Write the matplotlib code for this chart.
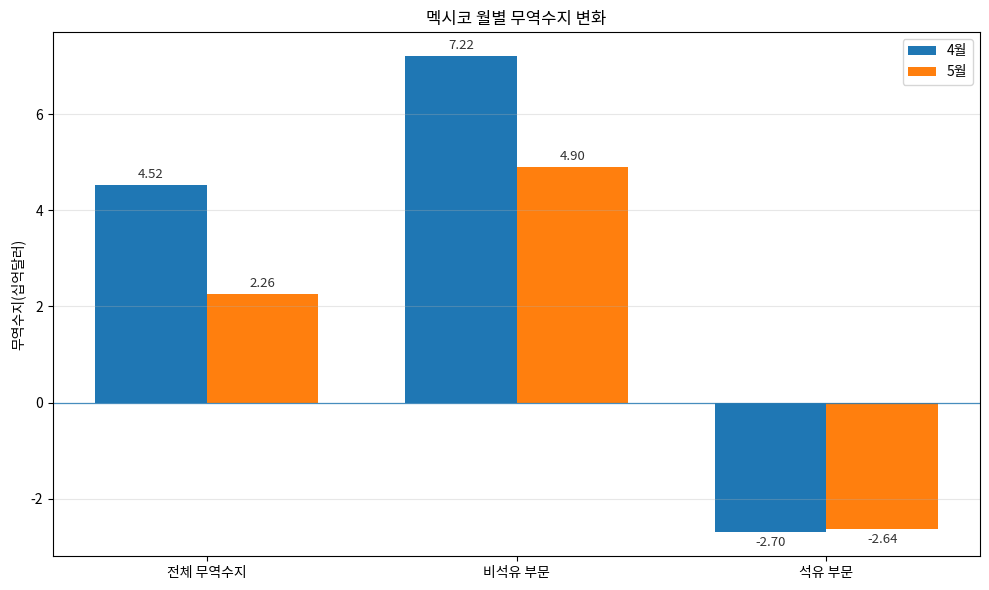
import numpy as np
import matplotlib
matplotlib.use("Agg")
import matplotlib.pyplot as plt

plt.rcParams['font.family'] = ['Noto Sans CJK KR', 'DejaVu Sans']
plt.rcParams['axes.unicode_minus'] = False

categories = ['전체 무역수지', '비석유 부문', '석유 부문']
april = [4.52, 7.22, -2.70]
may = [2.26, 4.90, -2.64]

x = np.arange(len(categories))
width = 0.36

fig, ax = plt.subplots(figsize=(9.89, 5.9), dpi=100)
b1 = ax.bar(x - width / 2, april, width, label='4월', color='#1f77b4')
b2 = ax.bar(x + width / 2, may, width, label='5월', color='#ff7f0e')

ax.set_title('멕시코 월별 무역수지 변화', fontsize=12, pad=6)
ax.set_ylabel('무역수지(십억달러)', fontsize=10)
ax.set_xticks(x)
ax.set_xticklabels(categories, fontsize=10)
ax.tick_params(axis='y', labelsize=10)

ax.axhline(0, color='#1f77b4', linewidth=0.9, alpha=0.8)
ax.grid(axis='y', alpha=0.3)
ax.legend(fontsize=10)

for bars in (b1, b2):
    for p in bars:
        h = p.get_height()
        ax.annotate(f'{h:.2f}',
                    (p.get_x() + p.get_width() / 2, h),
                    xytext=(0, 3 if h >= 0 else -3), textcoords='offset points',
                    ha='center', va='bottom' if h >= 0 else 'top',
                    fontsize=9.5, color='#333333')

plt.subplots_adjust(left=0.0536, right=0.991, top=0.9458, bottom=0.0576)
plt.savefig('out.png')
